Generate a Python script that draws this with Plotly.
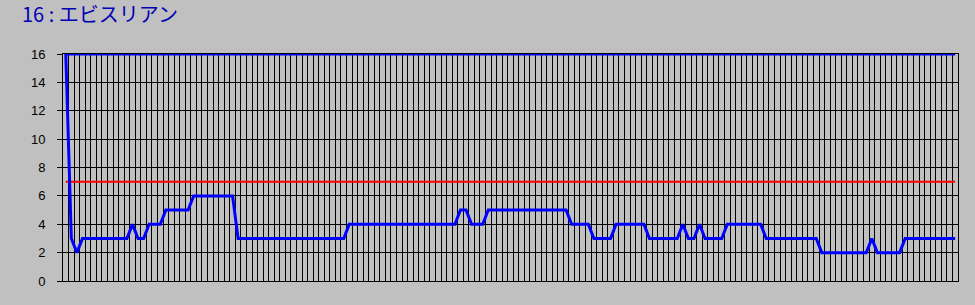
import plotly.graph_objects as go

# ---- data ----
title_text = "16 : エビスリアン"
# rank series, one value per category (161 categories)
runs = [(16, 1), (3, 1), (2, 1), (3, 9), (4, 1), (3, 2), (4, 3), (5, 5), (6, 8),
        (3, 20), (4, 20), (5, 2), (4, 3), (5, 15), (4, 4), (3, 4), (4, 6), (3, 6),
        (4, 1), (3, 2), (4, 1), (3, 4), (4, 7), (3, 10), (2, 9), (3, 1), (2, 5), (3, 10)]
rank_values = []
for v, n in runs:
    rank_values.extend([v] * n)
n_cat = len(rank_values)
categories = list(range(n_cat))
top_values = [16] * n_cat          # constant series at 16
ref_values = [7] * n_cat           # red reference line at 7
y_ticks = [0, 2, 4, 6, 8, 10, 12, 14, 16]

fig = go.Figure()
fig.add_trace(go.Scatter(x=categories, y=ref_values, mode="lines",
                         line=dict(color="#FF0000", width=2), cliponaxis=False,
                         hoverinfo="skip"))
fig.add_trace(go.Scatter(x=categories, y=top_values, mode="lines",
                         line=dict(color="#0000FF", width=3), cliponaxis=False,
                         hoverinfo="skip"))
fig.add_trace(go.Scatter(x=categories, y=rank_values, mode="lines",
                         line=dict(color="#0000FF", width=3), cliponaxis=False,
                         hoverinfo="skip"))

fig.update_layout(
    width=975, height=305,
    margin=dict(l=63, r=17, t=54, b=24, pad=0),
    paper_bgcolor="#C0C0C0", plot_bgcolor="#C0C0C0",
    showlegend=False,
    title=dict(text=title_text, x=22 / 975, xanchor="left", xref="container",
               y=1 - 15 / 305, yanchor="middle", yref="container",
               font=dict(family="Noto Sans CJK JP", size=20, color="#0000B4")),
    xaxis=dict(range=[-0.5, n_cat - 0.5], tickmode="array",
               tickvals=[i - 0.5 for i in range(n_cat + 1)],
               showticklabels=False, ticks="", showgrid=True,
               gridcolor="#000000", gridwidth=1, zeroline=False,
               showline=True, linecolor="#000000", linewidth=1, mirror=True),
    yaxis=dict(range=[0, 16], tickmode="array", tickvals=y_ticks,
               ticks="outside", ticklen=5, tickcolor="#000000", tickwidth=1,
               ticklabelstandoff=9,
               tickfont=dict(family="Arial, Liberation Sans", size=13, color="#000000"),
               showgrid=True, gridcolor="#000000", gridwidth=1, zeroline=False,
               showline=True, linecolor="#000000", linewidth=1, mirror=True),
)

fig.write_html("out.html")
